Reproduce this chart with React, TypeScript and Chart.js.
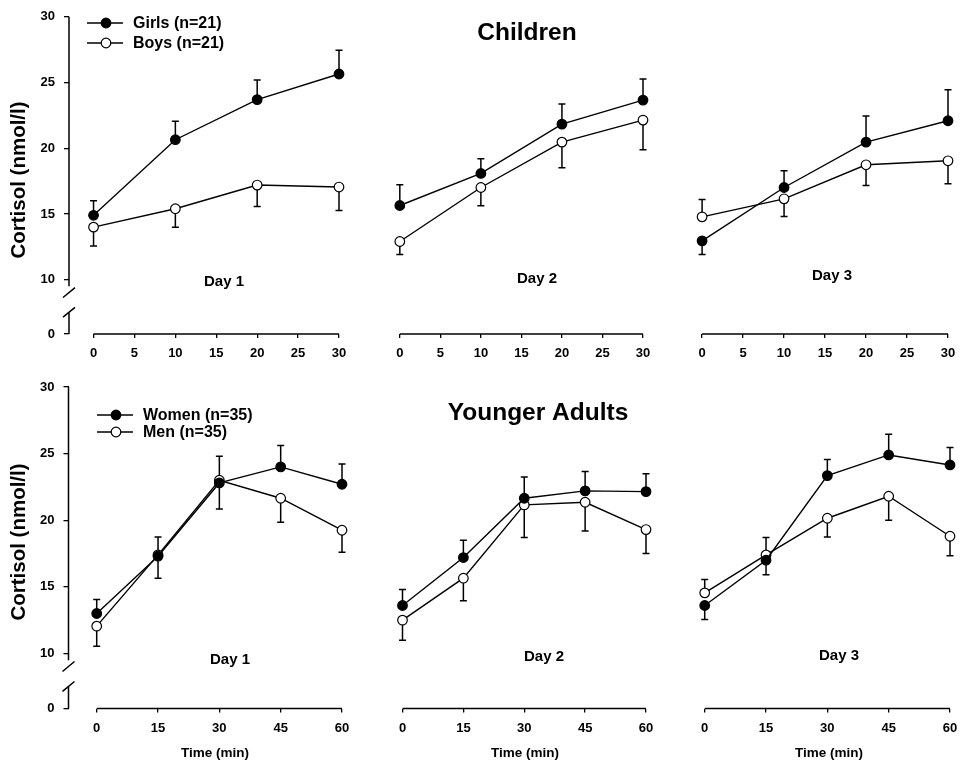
import React, { useEffect, useRef } from 'react';
import { Chart, registerables } from 'chart.js';

Chart.register(...registerables);

// ---------------- data ----------------
const childTimes = [0, 10, 20, 30];
const adultTimes = [0, 15, 30, 45, 60];
const childTickValues = [0, 5, 10, 15, 20, 25, 30];
const adultTickValues = [0, 15, 30, 45, 60];
const cortisolTickValues = [10, 15, 20, 25, 30];
const zeroTickLabel = '0';
const dayLabels = ['Day 1', 'Day 2', 'Day 3'];
const groupTitles = ['Children', 'Younger Adults'];
const childSeriesNames = ['Girls (n=21)', 'Boys (n=21)'];
const adultSeriesNames = ['Women (n=35)', 'Men (n=35)'];
const yAxisTitle = 'Cortisol (nmol/l)';
const xAxisTitle = 'Time (min)';

type Side = 'up' | 'down';

const girlsDay1 = [14.9, 20.65, 23.7, 25.65];
const girlsDay1SE = [1.1, 1.4, 1.5, 1.8];
const girlsDay1Side: Side[] = ['up', 'up', 'up', 'up'];
const boysDay1 = [14.0, 15.4, 17.2, 17.05];
const boysDay1SE = [1.43, 1.4, 1.64, 1.78];
const boysDay1Side: Side[] = ['down', 'down', 'down', 'down'];

const girlsDay2 = [15.5, 17.9, 21.6, 23.4];
const girlsDay2SE = [1.56, 1.1, 1.5, 1.57];
const girlsDay2Side: Side[] = ['up', 'up', 'up', 'up'];
const boysDay2 = [12.8, 16.85, 20.25, 21.9];
const boysDay2SE = [0.97, 1.36, 1.92, 2.22];
const boysDay2Side: Side[] = ['down', 'down', 'down', 'down'];

const girlsDay3 = [12.85, 16.85, 20.25, 21.85];
const girlsDay3SE = [1.02, 1.25, 1.95, 2.32];
const girlsDay3Side: Side[] = ['down', 'up', 'up', 'up'];
const boysDay3 = [14.65, 16.0, 18.55, 18.85];
const boysDay3SE = [1.29, 1.33, 1.56, 1.72];
const boysDay3Side: Side[] = ['up', 'down', 'down', 'down'];

const womenDay1 = [13.0, 17.3, 22.8, 24.0, 22.7];
const womenDay1SE = [1.05, 1.44, 1.96, 1.6, 1.52];
const womenDay1Side: Side[] = ['up', 'up', 'down', 'up', 'up'];
const menDay1 = [12.05, 17.4, 23.0, 21.65, 19.25];
const menDay1SE = [1.5, 1.75, 1.8, 1.8, 1.66];
const menDay1Side: Side[] = ['down', 'down', 'up', 'down', 'down'];

const womenDay2 = [13.6, 17.2, 21.65, 22.2, 22.15];
const womenDay2SE = [1.2, 1.3, 1.6, 1.45, 1.33];
const womenDay2Side: Side[] = ['up', 'up', 'up', 'up', 'up'];
const menDay2 = [12.5, 15.65, 21.15, 21.35, 19.3];
const menDay2SE = [1.5, 1.7, 2.45, 2.15, 1.8];
const menDay2Side: Side[] = ['down', 'down', 'down', 'down', 'down'];

const womenDay3 = [13.6, 17.0, 23.35, 24.9, 24.15];
const womenDay3SE = [1.05, 1.1, 1.2, 1.55, 1.3];
const womenDay3Side: Side[] = ['down', 'down', 'up', 'up', 'up'];
const menDay3 = [14.55, 17.4, 20.15, 21.8, 18.8];
const menDay3SE = [1.0, 1.3, 1.4, 1.8, 1.47];
const menDay3Side: Side[] = ['up', 'up', 'down', 'down', 'down'];

// ---------------- layout / style ----------------
const FONT = '"Liberation Sans", Arial, Helvetica, sans-serif';
const Y_MAX = 30;
const ZERO_POS = 5.87; // compressed axis position where the "0" tick sits
const CHILD_X_MIN = -3;
const ADULT_X_MIN = -6.9;
const MARKER_R = 4.8;

interface Series { label: string; values: number[]; se: number[]; side: Side[]; filled: boolean; }
interface PanelSpec {
  canvas: { x: number; y: number; w: number; h: number };
  area: { l: number; t: number; r: number; b: number };
  times: number[];
  ticks: number[];
  xMin: number;
  xMax: number;
  series: Series[];
  showY: boolean;
  day: string;
  dayPos: [number, number];
  title?: string;
  titlePos?: [number, number];
  legend?: { x: number; y: number; gap: number };
  timePos?: [number, number];
  yTitlePos?: [number, number];
}

const mk = (label: string, values: number[], se: number[], side: Side[], filled: boolean): Series =>
  ({ label, values, se, side, filled });

const TOP_T = 12, TOP_B = 334, BOT_T = 387, BOT_B = 708.5;

const panels: PanelSpec[] = [
  {
    canvas: { x: 0, y: 0, w: 360, h: 370 }, area: { l: 69, t: TOP_T, r: 339, b: TOP_B },
    times: childTimes, ticks: childTickValues, xMin: CHILD_X_MIN, xMax: 30,
    series: [mk(childSeriesNames[0], girlsDay1, girlsDay1SE, girlsDay1Side, true), mk(childSeriesNames[1], boysDay1, boysDay1SE, boysDay1Side, false)],
    showY: true, day: dayLabels[0], dayPos: [224, 282],
    legend: { x: 87, y: 23, gap: 20 }, yTitlePos: [19, 180],
  },
  {
    canvas: { x: 360, y: 0, w: 305, h: 370 }, area: { l: 375.5, t: TOP_T, r: 643, b: TOP_B },
    times: childTimes, ticks: childTickValues, xMin: CHILD_X_MIN, xMax: 30,
    series: [mk(childSeriesNames[0], girlsDay2, girlsDay2SE, girlsDay2Side, true), mk(childSeriesNames[1], boysDay2, boysDay2SE, boysDay2Side, false)],
    showY: false, day: dayLabels[1], dayPos: [537, 279],
    title: groupTitles[0], titlePos: [527, 33],
  },
  {
    canvas: { x: 665, y: 0, w: 302, h: 370 }, area: { l: 677.5, t: TOP_T, r: 948, b: TOP_B },
    times: childTimes, ticks: childTickValues, xMin: CHILD_X_MIN, xMax: 30,
    series: [mk(childSeriesNames[0], girlsDay3, girlsDay3SE, girlsDay3Side, true), mk(childSeriesNames[1], boysDay3, boysDay3SE, boysDay3Side, false)],
    showY: false, day: dayLabels[2], dayPos: [832, 276],
  },
  {
    canvas: { x: 0, y: 370, w: 360, h: 401 }, area: { l: 68.5, t: BOT_T, r: 342, b: BOT_B },
    times: adultTimes, ticks: adultTickValues, xMin: ADULT_X_MIN, xMax: 60,
    series: [mk(adultSeriesNames[0], womenDay1, womenDay1SE, womenDay1Side, true), mk(adultSeriesNames[1], menDay1, menDay1SE, menDay1Side, false)],
    showY: true, day: dayLabels[0], dayPos: [230, 660],
    legend: { x: 97, y: 415, gap: 17 }, yTitlePos: [19, 542], timePos: [215, 753],
  },
  {
    canvas: { x: 360, y: 370, w: 305, h: 401 }, area: { l: 374.5, t: BOT_T, r: 646, b: BOT_B },
    times: adultTimes, ticks: adultTickValues, xMin: ADULT_X_MIN, xMax: 60,
    series: [mk(adultSeriesNames[0], womenDay2, womenDay2SE, womenDay2Side, true), mk(adultSeriesNames[1], menDay2, menDay2SE, menDay2Side, false)],
    showY: false, day: dayLabels[1], dayPos: [544, 657],
    title: groupTitles[1], titlePos: [538, 413], timePos: [525, 753],
  },
  {
    canvas: { x: 665, y: 370, w: 302, h: 401 }, area: { l: 676.5, t: BOT_T, r: 950, b: BOT_B },
    times: adultTimes, ticks: adultTickValues, xMin: ADULT_X_MIN, xMax: 60,
    series: [mk(adultSeriesNames[0], womenDay3, womenDay3SE, womenDay3Side, true), mk(adultSeriesNames[1], menDay3, menDay3SE, menDay3Side, false)],
    showY: false, day: dayLabels[2], dayPos: [839, 656], timePos: [829, 753],
  },
];

function Panel({ spec }: { spec: PanelSpec }) {
  const ref = useRef<HTMLCanvasElement | null>(null);
  useEffect(() => {
    const el = ref.current;
    if (!el) return;
    const { canvas: cv, area } = spec;
    const ox = cv.x, oy = cv.y;

    const drawCircle = (ctx: CanvasRenderingContext2D, x: number, y: number, filled: boolean) => {
      ctx.beginPath();
      ctx.arc(x, y, MARKER_R, 0, Math.PI * 2);
      ctx.fillStyle = filled ? '#000' : '#fff';
      ctx.fill();
      ctx.lineWidth = 1.2;
      ctx.strokeStyle = '#000';
      ctx.stroke();
    };

    const decor = {
      id: 'decor',
      beforeDatasetsDraw(chart: any) {
        const ctx: CanvasRenderingContext2D = chart.ctx;
        const xs = chart.scales.x, ys = chart.scales.y;
        ctx.save();
        ctx.strokeStyle = '#000';
        ctx.lineWidth = 1.5;
        spec.series.forEach((s) => {
          s.values.forEach((v, i) => {
            const px = xs.getPixelForValue(spec.times[i]);
            const py = ys.getPixelForValue(v);
            const end = ys.getPixelForValue(s.side[i] === 'up' ? v + s.se[i] : v - s.se[i]);
            ctx.beginPath();
            ctx.moveTo(px, py);
            ctx.lineTo(px, end);
            ctx.moveTo(px - 3.5, end);
            ctx.lineTo(px + 3.5, end);
            ctx.stroke();
          });
        });
        ctx.restore();
      },
      afterDraw(chart: any) {
        const ctx: CanvasRenderingContext2D = chart.ctx;
        const xs = chart.scales.x, ys = chart.scales.y;
        const ca = chart.chartArea;
        ctx.save();
        ctx.strokeStyle = '#000';
        ctx.lineWidth = 1.5;
        // x axis line from first to last tick
        ctx.beginPath();
        ctx.moveTo(xs.getPixelForValue(spec.ticks[0]), ca.bottom);
        ctx.lineTo(xs.getPixelForValue(spec.ticks[spec.ticks.length - 1]), ca.bottom);
        ctx.stroke();
        // broken y axis
        if (spec.showY) {
          const X = ca.left;
          ctx.beginPath();
          ctx.moveTo(X, ys.getPixelForValue(Y_MAX));
          ctx.lineTo(X, ys.getPixelForValue(9.5));
          ctx.moveTo(X - 6, ys.getPixelForValue(8.65));
          ctx.lineTo(X + 6, ys.getPixelForValue(9.4));
          ctx.moveTo(X - 6, ys.getPixelForValue(7.15));
          ctx.lineTo(X + 6, ys.getPixelForValue(7.9));
          ctx.moveTo(X, ys.getPixelForValue(7.55));
          ctx.lineTo(X, ys.getPixelForValue(ZERO_POS));
          ctx.stroke();
        }
        ctx.fillStyle = '#000';
        ctx.textAlign = 'center';
        ctx.textBaseline = 'middle';
        ctx.font = `bold 15px ${FONT}`;
        ctx.fillText(spec.day, spec.dayPos[0] - ox, spec.dayPos[1] - oy);
        if (spec.title && spec.titlePos) {
          ctx.font = `bold 24.5px ${FONT}`;
          ctx.fillText(spec.title, spec.titlePos[0] - ox, spec.titlePos[1] - oy);
        }
        if (spec.timePos) {
          ctx.font = `bold 13.5px ${FONT}`;
          ctx.fillText(xAxisTitle, spec.timePos[0] - ox, spec.timePos[1] - oy);
        }
        if (spec.yTitlePos) {
          ctx.save();
          ctx.translate(spec.yTitlePos[0] - ox, spec.yTitlePos[1] - oy);
          ctx.rotate(-Math.PI / 2);
          ctx.font = `bold 20.5px ${FONT}`;
          ctx.fillText(yAxisTitle, 0, 0);
          ctx.restore();
        }
        if (spec.legend) {
          const lg = spec.legend;
          spec.series.forEach((s, i) => {
            const y = lg.y - oy + i * lg.gap;
            const x = lg.x - ox;
            ctx.strokeStyle = '#000';
            ctx.lineWidth = 1.4;
            ctx.beginPath();
            ctx.moveTo(x, y);
            ctx.lineTo(x + 36, y);
            ctx.stroke();
            drawCircle(ctx, x + 19, y, s.filled);
            ctx.fillStyle = '#000';
            ctx.font = `bold 16px ${FONT}`;
            ctx.textAlign = 'left';
            ctx.textBaseline = 'middle';
            ctx.fillText(s.label, x + 46, y + 1);
          });
        }
        ctx.restore();
      },
    };

    const tickFont = { family: FONT, size: 13, weight: 'bold' as const };

    const chart = new Chart(el, {
      type: 'line',
      data: {
        datasets: spec.series.map((s) => ({
          label: s.label,
          data: spec.times.map((t, i) => ({ x: t, y: s.values[i] })),
          borderColor: '#000',
          borderWidth: 1.4,
          pointRadius: MARKER_R,
          pointHoverRadius: MARKER_R,
          pointBackgroundColor: s.filled ? '#000' : '#fff',
          pointBorderColor: '#000',
          pointBorderWidth: 1.2,
          fill: false,
          tension: 0,
          clip: false,
        })),
      },
      options: {
        animation: false,
        responsive: false,
        devicePixelRatio: 1,
        events: [],
        layout: {
          padding: {
            left: spec.showY ? 0 : area.l - cv.x,
            right: cv.x + cv.w - area.r,
            top: area.t - cv.y,
            bottom: 0,
          },
        },
        plugins: { legend: { display: false }, tooltip: { enabled: false }, title: { display: false } },
        scales: {
          x: {
            type: 'linear',
            min: spec.xMin,
            max: spec.xMax,
            afterBuildTicks: (s: any) => { s.ticks = spec.ticks.map((v) => ({ value: v })); },
            afterFit: (s: any) => { s.height = cv.y + cv.h - area.b; },
            ticks: { font: tickFont, color: '#000', padding: 8, maxRotation: 0, autoSkip: false },
            grid: { display: true, drawOnChartArea: false, drawTicks: true, tickLength: 4, color: '#000', lineWidth: 1.3 },
            border: { display: false },
          },
          y: {
            type: 'linear',
            display: spec.showY,
            min: ZERO_POS,
            max: Y_MAX,
            afterBuildTicks: (s: any) => { s.ticks = [ZERO_POS, ...cortisolTickValues].map((v) => ({ value: v })); },
            afterFit: (s: any) => { if (spec.showY) s.width = area.l - cv.x; },
            ticks: {
              font: tickFont,
              color: '#000',
              padding: 9,
              callback: (v: any) => (Math.abs(Number(v) - ZERO_POS) < 1e-6 ? zeroTickLabel : String(v)),
            },
            grid: { display: true, drawOnChartArea: false, drawTicks: true, tickLength: 5, color: '#000', lineWidth: 1.3 },
            border: { display: false },
          },
        },
      },
      plugins: [decor],
    } as any);
    return () => chart.destroy();
  }, [spec]);

  const { x, y, w, h } = spec.canvas;
  return (
    <canvas
      ref={ref}
      width={w}
      height={h}
      style={{ position: 'absolute', left: x, top: y, width: w, height: h }}
    />
  );
}

export default function App() {
  return (
    <div style={{ position: 'absolute', left: 0, top: 0, width: 967, height: 771, background: '#fff', overflow: 'hidden' }}>
      {panels.map((p, i) => (
        <Panel key={i} spec={p} />
      ))}
    </div>
  );
}
